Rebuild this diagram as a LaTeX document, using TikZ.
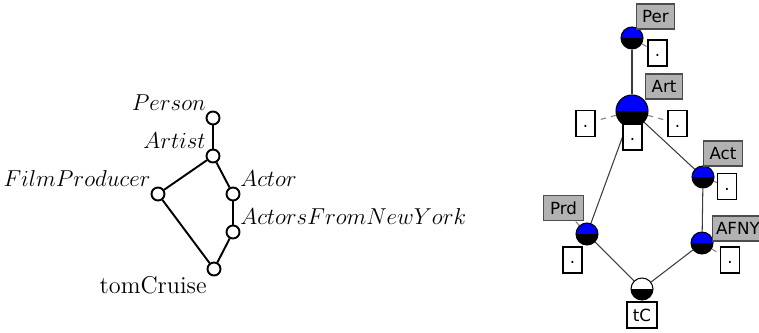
\RequirePackage{fix-cm}
\documentclass[tikz,border=0pt]{standalone}
\usepackage{amsmath}
\usepackage{xcolor}
\usepackage{fontspec}
\usepackage{tikz}
\usetikzlibrary{backgrounds}
\newfontfamily\tagfont{DejaVu Sans}
\definecolor{taggray}{RGB}{178,178,178}
\definecolor{edgegray}{RGB}{60,60,60}
\tikzset{
  halfnode/.style={circle,draw=black,line width=0.6pt,inner sep=0pt,
    path picture={\fill[#1] (path picture bounding box.north west) rectangle (path picture bounding box.east);
      \fill[black] (path picture bounding box.west) rectangle (path picture bounding box.south east);}},
  tag/.style={draw=black!70,fill=taggray,line width=0.6pt,font=\tagfont\fontsize{9.5}{11}\selectfont,
    minimum height=0.5cm,inner xsep=3.5pt,inner ysep=0pt},
  dotbox/.style={draw=black,fill=white,line width=0.6pt,minimum width=0.38cm,minimum height=0.52cm,
    inner sep=0pt,font=\tagfont\fontsize{9.5}{11}\selectfont},
  lat/.style={circle,draw=black,fill=white,line width=1.1pt,minimum size=0.26cm,inner sep=0pt},
  latlbl/.style={font=\fontsize{13.1}{15}\selectfont,inner sep=1pt}
}
\begin{document}
\begin{tikzpicture}[x=0.02cm,y=-0.02cm]
\useasboundingbox (0,0) rectangle (759,333);
\node [lat] (person) at (213,118) {};
\node [lat] (artist) at (213,156) {};
\node [lat] (prod) at (158,194) {};
\node [lat] (actor) at (233,194) {};
\node [lat] (afny) at (233,232) {};
\node [lat] (tom) at (214,269) {};
\node [latlbl,anchor=south east] (personlbl) at (person.north west) {$Person$};
\node [latlbl,anchor=south east] (artistlbl) at (artist.north west) {$Artist$};
\node [latlbl,anchor=south east] (prodlbl) at (prod.north west) {$FilmProducer$};
\node [latlbl,anchor=south west] (actorlbl) at (actor.north east) {$Actor$};
\node [latlbl,anchor=south west] (afnylbl) at (afny.north east) {$ActorsFromNewYork$};
\node [latlbl,font=\fontsize{13.8}{16}\selectfont,anchor=north east] (tomlbl) at (tom.south west) {tomCruise};
\draw [line width=1.1pt] (person) -- (artist);
\draw [line width=1.1pt] (artist) -- (prod);
\draw [line width=1.1pt] (artist) -- (actor);
\draw [line width=1.1pt] (actor) -- (afny);
\draw [line width=1.1pt] (afny) -- (tom);
\draw [line width=1.1pt] (prod) -- (tom);
\node [halfnode=blue,minimum size=0.44cm] (per) at (632,38) {};
\node [halfnode=blue,minimum size=0.64cm] (art) at (632,111) {};
\node [halfnode=blue,minimum size=0.44cm] (act) at (703,177) {};
\node [halfnode=blue,minimum size=0.44cm] (afn) at (702,243) {};
\node [halfnode=blue,minimum size=0.44cm] (prd) at (587,234) {};
\node [halfnode=white,minimum size=0.44cm] (tc) at (642,289) {};
\node [dotbox] (perdot) at (657.5,53) {\strut.};
\node [tag] (pertag) at (655.5,16.5) {Per};
\node [dotbox] (artdotl) at (585.5,123.5) {\strut.};
\node [dotbox] (artdotr) at (677.5,123.5) {\strut.};
\node [dotbox] (artdotb) at (632.5,137) {\strut.};
\node [tag] (arttag) at (664,86.5) {Art};
\node [dotbox] (actdot) at (727,186.5) {\strut.};
\node [tag] (acttag) at (723,153.5) {Act};
\node [dotbox] (afndot) at (730,260) {\strut.};
\node [tag,anchor=west,inner xsep=2pt] (afntag) at (712,228.5) {AFNY};
\node [dotbox] (prddot) at (572.5,260) {\strut.};
\node [tag] (prdtag) at (563.5,208) {Prd};
\node [dotbox,minimum width=0.6cm] (tctag) at (642,315) {tC};
\begin{scope}[on background layer]
\draw [edgegray,line width=0.6pt] (per) -- (art);
\draw [edgegray,line width=0.6pt] (art) -- (prd);
\draw [edgegray,line width=0.6pt] (art) -- (act);
\draw [edgegray,line width=0.6pt] (act) -- (afn);
\draw [edgegray,line width=0.6pt] (afn) -- (tc);
\draw [edgegray,line width=0.6pt] (prd) -- (tc);
\draw [gray,dashed,line width=0.6pt] (per) -- (perdot);
\draw [gray,dashed,line width=0.6pt] (art) -- (artdotl);
\draw [gray,dashed,line width=0.6pt] (art) -- (artdotr);
\draw [gray,dashed,line width=0.6pt] (act) -- (actdot);
\draw [gray,dashed,line width=0.6pt] (afn) -- (afndot);
\draw [gray,dashed,line width=0.6pt] (prd) -- (prdtag);
\end{scope}
\end{tikzpicture}
\end{document}
